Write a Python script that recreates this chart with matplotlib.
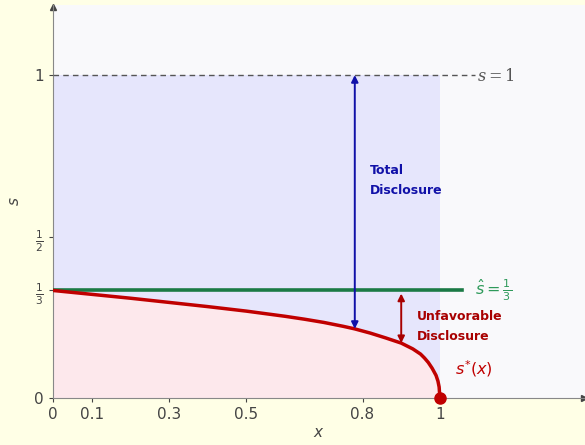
import numpy as np
import matplotlib
matplotlib.use("Agg")
import matplotlib.pyplot as plt

plt.rcParams['mathtext.fontset'] = 'dejavusans'

# curve s*(x), values
x_curve = [0, 0.1, 0.2, 0.3, 0.4, 0.5, 0.6, 0.65, 0.7, 0.75, 0.78, 0.82,
           0.86, 0.9, 0.93, 0.95, 0.96, 0.97, 0.98, 0.99, 0.995, 0.998, 1.0]
s_curve = [0.333, 0.321, 0.309, 0.296, 0.283, 0.269, 0.253, 0.244, 0.234, 0.222,
           0.214, 0.201, 0.186, 0.170, 0.152, 0.136, 0.124, 0.110, 0.092, 0.070,
           0.052, 0.034, 0.0]

s_hat = 1 / 3
x_ticks = [0, 0.1, 0.3, 0.5, 0.8, 1]
x_ticklabels = ['0', '0.1', '0.3', '0.5', '0.8', '1']
y_ticks = [0, 1 / 3, 1 / 2, 1]
y_ticklabels = ['0', r'$\frac{1}{3}$', r'$\frac{1}{2}$', '1']

x_total = 0.78     # total disclosure arrow
s_total_low = 0.214
x_unfav = 0.90     # unfavorable disclosure arrow
s_unfav_low = 0.170

gray = '#444444'
fig = plt.figure(figsize=(5.85, 4.45), dpi=100, facecolor='#FFFFE6')
ax = fig.add_axes([53 / 585, 47 / 445, 532 / 585, 393 / 445])
ax.set_facecolor('#F9F9FB')
ax.set_xlim(0, 1.375)
ax.set_ylim(0, 1.217)

# regions
ax.fill_between([0, 1], 0, 1, color='#E6E6FC', lw=0, zorder=1)
ax.fill_between(x_curve, 0, s_curve, color='#FDE8EC', lw=0, zorder=2)

# reference lines
ax.plot([0, 1.09], [1, 1], ls=(0, (4, 3)), color='#555555', lw=1, zorder=3)
ax.text(1.095, 1, '$s = 1$', color='#555555', fontsize=11.5, va='center', ha='left',
        math_fontfamily='dejavuserif')
ax.plot([0, 1.057], [s_hat, s_hat], color='#1B7A45', lw=2.6, zorder=4)
ax.text(1.09, s_hat, r'$\hat{s} = \frac{1}{3}$', color='#2E9A5A', fontsize=11.5,
        va='center', ha='left')

# s*(x)
ax.plot(x_curve, s_curve, color='#C00000', lw=2.5, zorder=5,
        solid_capstyle='round', solid_joinstyle='round')
ax.plot([1], [0], 'o', color='#C00000', ms=8, zorder=7, clip_on=False)
ax.text(1.04, 0.09, '$s^{*}(x)$', color='#C00000', fontsize=11.5, va='center', ha='left')

# arrows
ax.annotate('', xy=(x_total, 1), xytext=(x_total, s_total_low),
            arrowprops=dict(arrowstyle='<|-|>', color='#1010A8', lw=1.4,
                            mutation_scale=10, shrinkA=0, shrinkB=0), zorder=6)
ax.text(0.819, 0.675, 'Total\nDisclosure', color='#1010A8', fontsize=9,
        fontweight='bold', va='center', ha='left', linespacing=1.7)
ax.annotate('', xy=(x_unfav, s_hat - 0.01), xytext=(x_unfav, s_unfav_low),
            arrowprops=dict(arrowstyle='<|-|>', color='#A80000', lw=1.4,
                            mutation_scale=10, shrinkA=0, shrinkB=0), zorder=6)
ax.text(0.94, 0.222, 'Unfavorable\nDisclosure', color='#A80000', fontsize=9,
        fontweight='bold', va='center', ha='left', linespacing=1.7)

# axes with arrows
for sp in ['top', 'right']:
    ax.spines[sp].set_visible(False)
ax.spines['left'].set_color('#888888')
ax.spines['bottom'].set_color('#888888')
ax.plot(1.372, 0, '>', color=gray, ms=5, clip_on=False)
ax.plot(0, 1.21, '^', color=gray, ms=5, clip_on=False)

ax.set_xticks(x_ticks)
ax.set_xticklabels(x_ticklabels)
ax.set_yticks(y_ticks)
ax.set_yticklabels(y_ticklabels)
ax.tick_params(colors=gray, labelsize=11, length=3, width=0.8)
ax.tick_params(axis='y', labelsize=11)
ax.set_xlabel('$x$', color=gray, fontsize=11, labelpad=2)
ax.set_ylabel('$s$', color=gray, fontsize=11, labelpad=9)

fig.savefig('out.png', dpi=100, facecolor=fig.get_facecolor())
